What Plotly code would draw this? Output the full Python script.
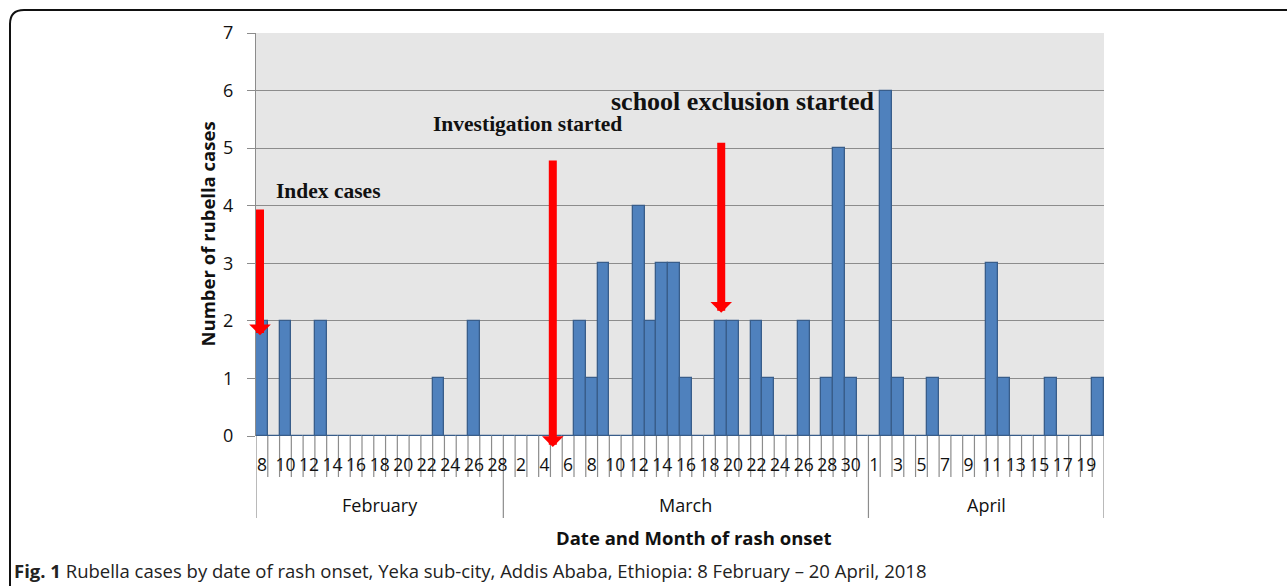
import plotly.graph_objects as go

# ---------------- data ----------------
months = ["February", "March", "April"]
feb_days = list(range(8, 29))
mar_days = list(range(1, 32))
apr_days = list(range(1, 21))
feb_cases = [2, 0, 2, 0, 0, 2, 0, 0, 0, 0, 0, 0, 0, 0, 0, 1, 0, 0, 2, 0, 0]
mar_cases = [0, 0, 0, 0, 0, 0, 2, 1, 3, 0, 0, 4, 2, 3, 3, 1, 0, 0, 2, 2,
             0, 2, 1, 0, 0, 2, 0, 1, 5, 1, 0]
apr_cases = [0, 6, 1, 0, 0, 1, 0, 0, 0, 0, 3, 1, 0, 0, 0, 1, 0, 0, 0, 1]

day_groups = [feb_days, mar_days, apr_days]
case_groups = [feb_cases, mar_cases, apr_cases]

days = [d for g in day_groups for d in g]
cases = [c for g in case_groups for c in g]
idx = list(range(len(days)))
tick_text = [str(d) if i % 2 == 0 else "" for i, d in enumerate(days)]

# annotation events: (label, arrow x in category units, tip value, tail value)
events = [
    ("Index cases", -0.16, 1.75, 3.96),
    ("Investigation started", 24.7, -0.19, 4.81),
    ("school exclusion started", 39.0, 2.14, 5.12),
]

# ---------------- layout geometry ----------------
W, H = 1287, 586
L, R, T, B = 256, 1104, 33, 436
PW, PH = R - L, B - T


def px(x):
    return (x - L) / PW


def py(y):
    return (B - y) / PH


fig = go.Figure()
fig.add_trace(go.Bar(
    x=idx, y=cases, width=1.0,
    marker=dict(color="#4F81BD", line=dict(color="#385D8A", width=1.3)),
    hoverinfo="skip", showlegend=False,
))

shapes = []
# boundaries between every day (short lines), month boundaries longer
month_bounds = [-0.5]
acc = -0.5
for g in day_groups:
    acc += len(g)
    month_bounds.append(acc)
for b in range(len(days) + 1):
    xb = b - 0.5
    long = xb in month_bounds
    shapes.append(dict(type="line", xref="x", yref="paper", x0=xb, x1=xb,
                       y0=0, y1=py(518) if long else py(477),
                       line=dict(color="#8c8c8c", width=1.2), layer="below"))

# outer frame (rounded rectangle, cut by the page edge)
fx0, fy0, fx1, fy1, r = px(10), py(10), px(1300), py(600), 14
rx, ry = r / PW, r / PH
frame = (f"M {fx0},{fy1} L {fx0},{fy0 - ry} Q {fx0},{fy0} {fx0 + rx},{fy0} "
         f"L {fx1},{fy0}")
shapes.append(dict(type="path", xref="paper", yref="paper", path=frame,
                   line=dict(color="#111111", width=2)))

annotations = []
# month labels
start = 0
for m, g in zip(months, day_groups):
    center = start + (len(g) - 1) / 2
    annotations.append(dict(x=center, y=py(505), xref="x", yref="paper",
                            xanchor="center", yanchor="middle",
                            text=m, showarrow=False,
                            font=dict(family="Open Sans", size=18, color="#111")))
    start += len(g)

# axis titles
annotations.append(dict(x=px(693), y=py(537), xref="paper", yref="paper",
                        xanchor="center", yanchor="middle",
                        text="<b>Date and Month of rash onset</b>", showarrow=False,
                        font=dict(family="Open Sans", size=18.5, color="#111")))
annotations.append(dict(x=px(207), y=0.5, xref="paper", yref="paper",
                        xanchor="center", yanchor="middle",
                        text="<b>Number of rubella cases</b>", showarrow=False,
                        textangle=-90,
                        font=dict(family="Open Sans", size=18.5, color="#111")))

# event labels
label_pos = [(328, 191, 21.5), (527, 124, 21.5), (742, 102, 26)]
for (txt, _, _, _), (lx, ly, fs) in zip(events, label_pos):
    annotations.append(dict(x=px(lx), y=py(ly), xref="paper", yref="paper",
                            xanchor="center", yanchor="middle",
                            text=f"<b>{txt}</b>", showarrow=False,
                            font=dict(family="Liberation Serif", size=fs,
                                      color="#111")))

# red arrows
for txt, ex, tip, tail in events:
    annotations.append(dict(x=ex, y=tip, ax=ex, ay=tail, xref="x", yref="y",
                            axref="x", ayref="y", text="", showarrow=True,
                            arrowhead=1, arrowwidth=8, arrowsize=0.45,
                            arrowcolor="#FF0000"))

# caption
annotations.append(dict(x=px(12), y=py(570), xref="paper", yref="paper",
                        xanchor="left", yanchor="middle",
                        text="<b>Fig. 1</b> Rubella cases by date of rash onset, Yeka sub-city, "
                             "Addis Ababa, Ethiopia: 8 February \u2013 20 April, 2018",
                        showarrow=False,
                        font=dict(family="Open Sans", size=18.5, color="#222")))

fig.update_layout(
    width=W, height=H,
    margin=dict(l=L, r=W - R, t=T, b=H - B, pad=0),
    paper_bgcolor="white", plot_bgcolor="#e6e6e6",
    bargap=0,
    shapes=shapes, annotations=annotations,
    xaxis=dict(range=[-0.5, len(days) - 0.5], tickmode="array",
               tickvals=idx, ticktext=tick_text, ticks="outside",
               ticklen=13, tickcolor="rgba(0,0,0,0)",
               showgrid=False, zeroline=False, showline=False,
               tickfont=dict(family="Open Sans", size=17.5, color="#111"),
               tickangle=0),
    yaxis=dict(range=[0, 7], dtick=1, tick0=0, showgrid=True,
               gridcolor="#8c8c8c", gridwidth=1.3, zeroline=False,
               showline=True, linecolor="#8c8c8c", linewidth=1.3,
               ticks="outside", ticklen=8, tickcolor="#8c8c8c",
               ticklabelstandoff=10,
               tickfont=dict(family="Open Sans", size=18, color="#111")),
)

fig.write_html("out.html",
               config={"displayModeBar": False},
               post_script="document.body.style.margin='0';"
                           "document.body.style.padding='0';")
